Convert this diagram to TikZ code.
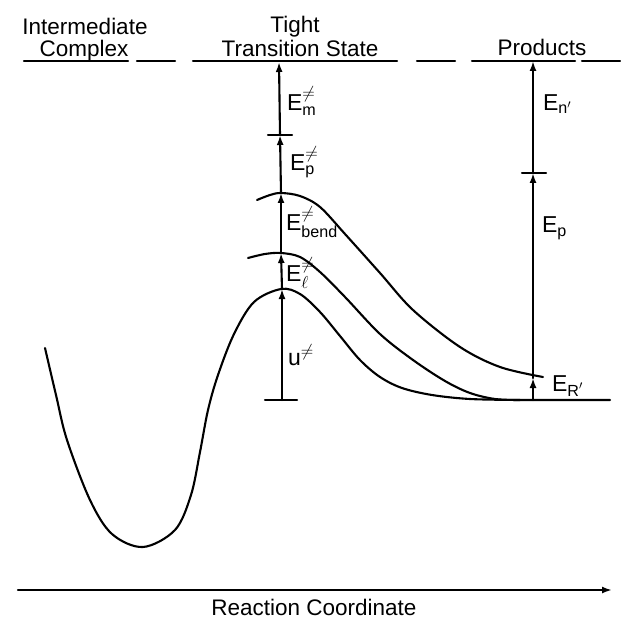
\documentclass[tikz,border=0pt]{standalone}
\usepackage{amsmath}
\usepackage{fontspec}
\setmainfont{Liberation Sans}
\usetikzlibrary{arrows.meta}
\begin{document}
\begin{tikzpicture}[x=1pt,y=-1pt,
  line width=2.1pt, line cap=round, line join=round,
  arr/.style={-{Latex[length=10pt,width=7pt]}},
  ttl/.style={anchor=base, inner sep=0pt, font=\fontsize{22.5}{26}\selectfont},
  lbl/.style={anchor=west, inner sep=0pt, font=\fontsize{23}{26}\selectfont},
  tick/.style={line width=2.1pt}]
\useasboundingbox (0,0) rectangle (620,628);

% titles
\node[ttl] (t1) at (85,35) {Intermediate};
\node[ttl] (t2) at (84,57) {Complex};
\node[ttl] (t3) at (295,33) {Tight};
\node[ttl] (t4) at (300,57) {Transition State};
\node[ttl] (t5) at (542,56) {Products};

% dashed level line
\foreach \a/\b in {24/128,137/175,193/397,417/455,472/575,582/620}
  \draw (\a,61) -- (\b,61);

% potential curves
\draw plot[smooth, tension=0.55] coordinates {(45,348) (56,395) (67,440) (90,500) (112,534) (143,547) (175,530) (191,495) (200,452) (208,410) (218,375) (234,334) (254,302) (281,289) (300,294) (320,312) (340,336) (360,360) (380,377) (402,388) (432,395) (470,399) (520,400)} -- (610,400);
\draw plot[smooth, tension=0.55] coordinates {(248,258) (265,254) (281,253) (300,257) (320,272) (345,297) (380,334) (413,360) (445,381) (470,393) (495,399) (520,400)};
\draw plot[smooth, tension=0.55] coordinates {(257,200) (270,195) (281,193) (300,196) (320,207) (345,234) (380,273) (413,310) (460,347) (500,367) (543,377)};

% transition state levels
\coordinate (ts0) at (282,400);
\coordinate (ts1) at (282,289);
\coordinate (ts2) at (281,253);
\coordinate (ts3) at (281,193);
\coordinate (ts4) at (280,135);
\coordinate (ts5) at (279,62);
\draw[tick] (265,400) -- (297,400);
\draw[tick] (268,135) -- (292,135);
\draw[arr] (ts0) -- (ts1);
\draw[arr] (ts1) -- (ts2);
\draw[arr] (ts2) -- (ts3);
\draw[arr] (ts3) -- (ts4);
\draw[arr] (ts4) -- (ts5);

% products levels
\coordinate (p0) at (533,400);
\coordinate (p1) at (533,378);
\coordinate (p2) at (533,173);
\coordinate (p3) at (533,61);
\draw[tick] (522,173) -- (546,173);
\draw[arr] (p0) -- (p1);
\draw[arr] (p1) -- (p2);
\draw[arr] (p2) -- (p3);

% labels
\node[lbl] (lm) at (286,101) {E$_{\text{m}}^{\neq}$};
\node[lbl] (lp) at (289,162) {E$_{\text{p}}^{\neq}$};
\node[lbl] (lb) at (285,222) {E$_{\text{bend}}^{\neq}$};
\node[lbl] (ll) at (285,273) {E$_{\ell}^{\neq}$};
\node[lbl] (lu) at (287,355) {u$^{\neq}$};
\node[lbl] (ln) at (542,104) {E$_{\text{n}'}$};
\node[lbl] (lpp) at (541,228) {E$_{\text{p}}$};
\node[lbl] (lr) at (551,386) {E$_{\text{R}'}$};

% axis
\coordinate (axL) at (18,590);
\coordinate (axR) at (612,590);
\draw[arr] (axL) -- (axR);
\node[ttl] (ax) at (314,615) {Reaction Coordinate};
\end{tikzpicture}
\end{document}
